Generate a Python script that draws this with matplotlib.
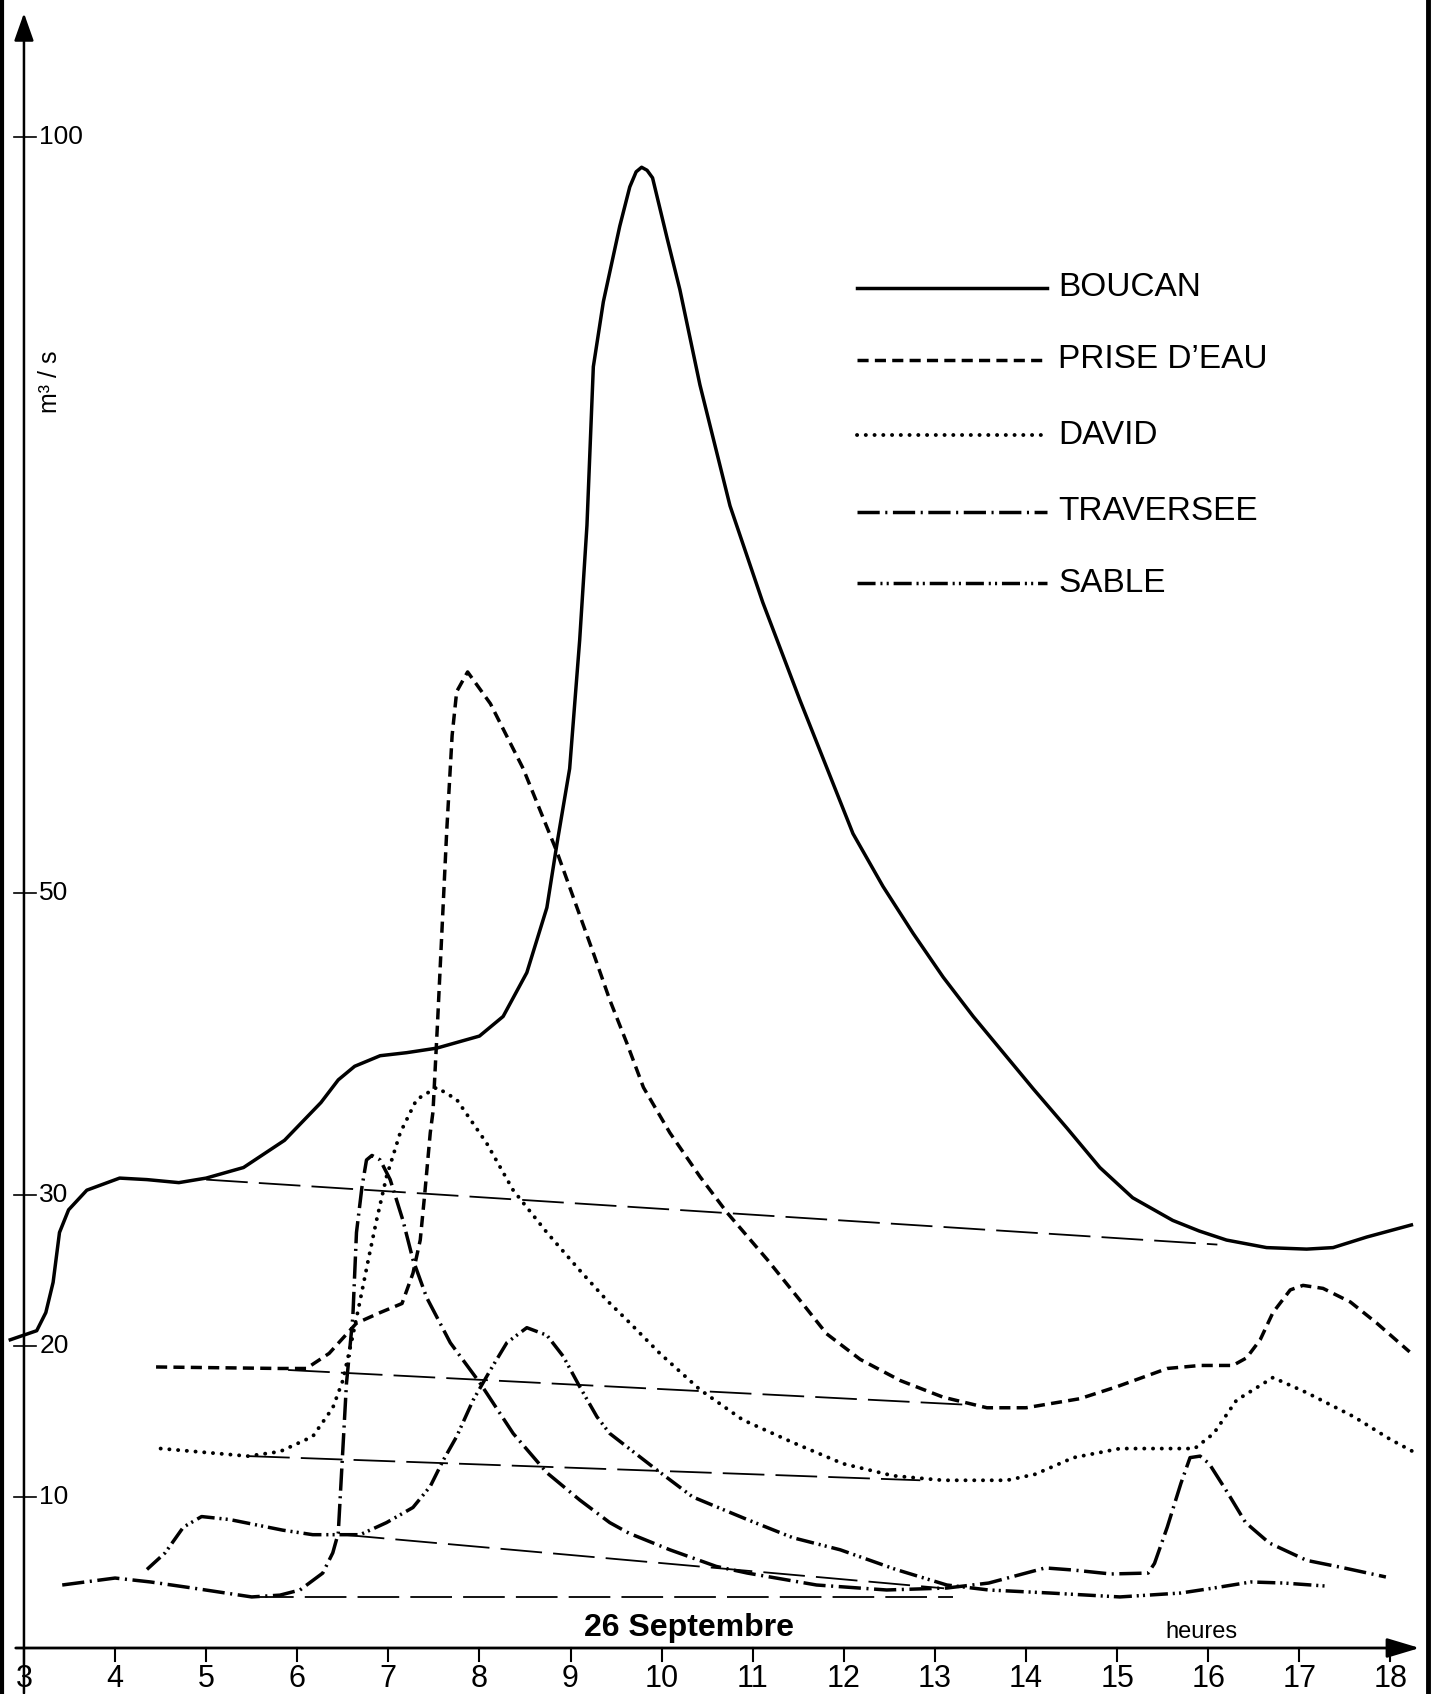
import matplotlib
matplotlib.use("Agg")
import matplotlib.pyplot as plt
from matplotlib import font_manager
from matplotlib.lines import Line2D

# debits des ravines, 26 septembre (heures, m3/s)
boucan_h = [2.85, 3.14, 3.24, 3.32, 3.39, 3.49, 3.69, 4.05, 4.35, 4.7, 5.0, 5.41, 5.86, 6.26,
            6.45, 6.63, 6.91, 7.2, 7.53, 8.0, 8.26, 8.52, 8.74, 8.85, 8.99, 9.1, 9.18, 9.25,
            9.36, 9.54, 9.65, 9.72, 9.78, 9.84, 9.9, 10.06, 10.2, 10.42, 10.75, 11.11, 11.52,
            11.81, 12.1, 12.43, 12.76, 13.09, 13.42, 13.75, 14.08, 14.45, 14.81, 15.17, 15.61,
            15.9, 16.2, 16.64, 17.08, 17.37, 17.74, 18.23]
boucan_q = [20.4, 21.0, 22.2, 24.2, 27.5, 29.0, 30.3, 31.1, 31.0, 30.8, 31.1, 31.8, 33.6, 36.1,
            37.6, 38.5, 39.2, 39.4, 39.7, 40.5, 41.8, 44.7, 49.0, 53.2, 58.2, 66.7, 74.3, 84.8,
            89.1, 94.1, 96.7, 97.7, 98.0, 97.8, 97.3, 93.3, 89.9, 83.6, 75.6, 69.2, 62.7,
            58.3, 53.9, 50.4, 47.3, 44.4, 41.8, 39.4, 37.0, 34.4, 31.8, 29.8, 28.3,
            27.6, 27.0, 26.5, 26.4, 26.5, 27.2, 28.0]

prise_h = [4.45, 5.81, 6.1, 6.35, 6.65, 6.91, 7.15, 7.27, 7.35, 7.4, 7.46, 7.49, 7.54, 7.59,
           7.64, 7.70, 7.75, 7.87, 8.12, 8.48, 8.85, 9.25, 9.43, 9.62, 9.80, 10.09, 10.42,
           10.72, 11.16, 11.52, 11.81, 12.18, 12.62, 13.09, 13.57, 14.0, 14.59, 15.0, 15.55,
           15.91, 16.27, 16.42, 16.57, 16.71, 16.9, 17.04, 17.26, 17.56, 17.85, 18.21]
prise_q = [18.6, 18.5, 18.5, 19.5, 21.5, 22.2, 22.8, 24.8, 27.0, 30.1, 34.1, 35.5, 41.4, 47.7,
           54.0, 60.4, 63.3, 64.6, 62.5, 58.2, 52.7, 46.0, 42.9, 40.0, 37.1, 34.1, 31.2,
           28.8, 25.7, 23.0, 20.8, 19.1, 17.7, 16.6, 15.9, 15.9, 16.5, 17.3, 18.5,
           18.7, 18.7, 19.2, 20.4, 22.2, 23.7, 24.0, 23.8, 22.9, 21.5, 19.6]

david_h = [4.5, 5.46, 5.81, 6.17, 6.39, 6.5, 6.6, 6.69, 6.78, 6.87, 6.98, 7.13, 7.31, 7.53,
           7.75, 8.08, 8.37, 8.74, 9.1, 9.4, 9.62, 9.98, 10.42, 10.89, 11.44, 11.99, 12.54,
           13.09, 13.79, 14.1, 14.52, 15.03, 15.85, 16.06, 16.31, 16.71, 17.08, 17.6, 18.0, 18.31]
david_q = [13.2, 12.7, 13.0, 14.0, 15.9, 17.7, 20.4, 23.0, 25.7, 28.3, 31.2, 34.1, 36.3, 37.1,
           36.3, 33.4, 30.3, 27.5, 25.0, 23.0, 21.7, 19.5, 17.1, 15.1, 13.6, 12.2, 11.4,
           11.1, 11.1, 11.5, 12.6, 13.2, 13.2, 14.2, 16.4, 17.9, 16.9, 15.3, 13.8, 12.8]

trav_h = [3.42, 4.0, 4.39, 4.85, 5.5, 5.81, 6.03, 6.28, 6.39, 6.45, 6.49, 6.54, 6.61, 6.65,
          6.71, 6.76, 6.82, 6.91, 7.02, 7.16, 7.27, 7.42, 7.68, 8.01, 8.37, 8.74, 9.1, 9.43,
          9.64, 10.09, 10.6, 10.94, 11.7, 12.47, 13.13, 13.59, 14.21, 14.52, 14.93, 15.34,
          15.41, 15.55, 15.7, 15.8, 15.91, 16.01, 16.21, 16.41, 16.67, 17.08, 17.49, 17.95]
trav_q = [4.17, 4.63, 4.37, 3.97, 3.38, 3.5, 3.84, 4.96, 6.3, 7.6, 12.0, 17.5, 21.9, 27.5,
          30.5, 32.3, 32.6, 32.3, 31.0, 28.3, 25.7, 23.2, 20.2, 17.5, 14.2, 11.6, 9.8, 8.3,
          7.6, 6.5, 5.4, 4.96, 4.17, 3.84, 3.97, 4.3, 5.3, 5.16, 4.9, 4.96,
          5.6, 8.0, 10.9, 12.6, 12.7, 12.2, 10.3, 8.3, 6.95, 5.8, 5.3, 4.7]

sable_h = [4.35, 4.55, 4.75, 4.95, 5.26, 5.84, 6.17, 6.69, 6.98, 7.27, 7.46, 7.6, 7.75, 7.93,
           8.12, 8.3, 8.52, 8.74, 8.92, 9.1, 9.29, 9.43, 9.9, 10.34, 10.94, 11.44, 11.96,
           12.57, 13.13, 13.59, 14.26, 15.03, 15.7, 16.06, 16.47, 16.83, 17.29]
sable_q = [5.2, 6.3, 8.0, 8.7, 8.5, 7.8, 7.5, 7.5, 8.3, 9.3, 10.7, 12.4, 14.0, 16.4,
           18.4, 20.2, 21.2, 20.7, 19.3, 17.3, 15.3, 14.2, 12.0, 10.0, 8.5, 7.3, 6.5,
           5.2, 4.17, 3.84, 3.64, 3.38, 3.64, 3.97, 4.37, 4.3, 4.1]

# droites de separation du ruissellement (debut -> fin)
# ordre : BOUCAN, PRISE D'EAU, DAVID, TRAVERSEE, SABLE
base_h0 = [5.0, 5.9, 5.46, 5.5, 6.5]
base_q0 = [31.0, 18.4, 12.7, 3.4, 7.5]
base_h1 = [16.1, 13.35, 12.84, 13.2, 13.1]
base_q1 = [26.7, 16.1, 11.1, 3.4, 3.95]

hours = list(range(3, 19))
q_ticks = [10, 20, 30, 50, 100]
names = ["BOUCAN", "PRISE D\u2019EAU", "DAVID", "TRAVERSEE", "SABLE"]

plt.rcParams["lines.scale_dashes"] = False
installed = {f.name for f in font_manager.fontManager.ttflist}
regular = "Liberation Sans" if "Liberation Sans" in installed else "DejaVu Sans"
narrow = "Liberation Sans Narrow" if "Liberation Sans Narrow" in installed else regular
xlab_size = 26 if narrow == "Liberation Sans Narrow" else 22

styles = [
    dict(linestyle="-", lw=2.5),
    dict(linestyle=(0, (8, 4.5)), lw=2.5),
    dict(linestyle=(0, (0.1, 6.2)), lw=2.8, dash_capstyle="round"),
    dict(linestyle=(0, (16, 4, 1.5, 4)), lw=2.5),
    dict(linestyle=(0, (13, 3.5, 1.5, 3, 1.5, 3.5)), lw=2.5),
]
series = [(boucan_h, boucan_q), (prise_h, prise_q), (david_h, david_q),
          (trav_h, trav_q), (sable_h, sable_q)]

fig = plt.figure(figsize=(14.32, 16.94), dpi=100)
ax = fig.add_axes([0, 0, 1, 1])
ax.set_xlim(2.737, 18.456)
ax.set_ylim(-3.044, 109.07)
ax.axis("off")

for (h, q), st in zip(series, styles):
    ax.plot(h, q, color="black", solid_joinstyle="round", **st)

for i in range(len(base_h0)):
    ax.plot([base_h0[i], base_h1[i]], [base_q0[i], base_q1[i]], color="black",
            lw=1.3, linestyle=(0, (30, 8)))

# axes avec fleches
ax.annotate("", xy=(3, 108.2), xytext=(3, -3.0),
            arrowprops=dict(arrowstyle="-|>,head_length=0.85,head_width=0.3",
                            color="black", lw=1.8, shrinkA=0, shrinkB=0, mutation_scale=20))
ax.annotate("", xy=(18.32, 0), xytext=(2.91, 0),
            arrowprops=dict(arrowstyle="-|>,head_length=1.0,head_width=0.3",
                            color="black", lw=2.0, shrinkA=0, shrinkB=0, mutation_scale=20))

for q in q_ticks:
    ax.plot([2.89, 3.13], [q, q], color="black", lw=1.2)
    ax.text(3.17, q, str(q), ha="left", va="center", fontsize=19, family=regular)

for h in hours:
    ax.plot([h, h], [0, -0.88], color="black", lw=1.5)
    ax.text(h, -1.05, str(h), ha="center", va="top", fontsize=xlab_size, family=narrow)

ax.text(3.285, 83.8, "m\u00b3 / s", rotation=90, ha="center", va="center",
        fontsize=18, family=regular)
ax.text(10.3, 1.3, "26 Septembre", ha="center", va="center", fontsize=23,
        fontweight="bold", family=regular)
ax.text(15.92, 1.06, "heures", ha="center", va="center", fontsize=17, family=regular)

# legende
leg_y = [0.830, 0.7875, 0.7432, 0.6978, 0.6558]
for name, st, y in zip(names, styles, leg_y):
    ax.plot([0.5985, 0.7311], [y, y], color="black", transform=ax.transAxes, **st)
    ax.text(0.7388, y, name, transform=ax.transAxes, ha="left", va="center",
            fontsize=24, family=regular)

# bords du cliche
for xf, w in [(0.0014, 3.0), (0.9972, 3.5)]:
    fig.add_artist(Line2D([xf, xf], [0, 1], transform=fig.transFigure,
                          color="black", lw=w))

fig.savefig("out.png", dpi=100, facecolor="white")
